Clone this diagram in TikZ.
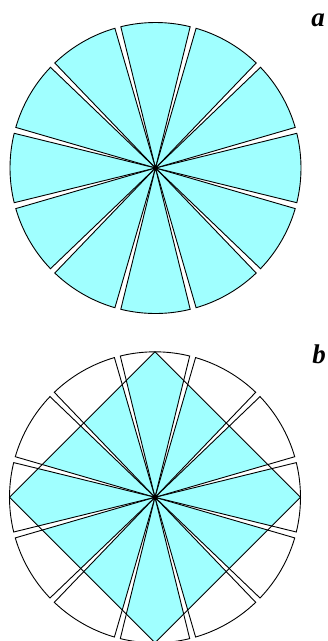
\documentclass[tikz,border=0pt]{standalone}
\usepackage{fontspec}
\setmainfont{Liberation Serif}
\usetikzlibrary{calc}
\definecolor{cy}{RGB}{160,255,255}
\begin{document}
\begin{tikzpicture}[x=1pt,y=1pt,
  sectorline/.style={draw=black, line width=0.9pt, line join=miter},
  lbl/.style={font=\bfseries\itshape\fontsize{27}{27}\selectfont, anchor=base, inner sep=0pt}]
\useasboundingbox (0,-641) rectangle (328,0);
\def\R{145.5}
\def\h{13.8}
% ---------- a ----------
\coordinate (ca) at (155.5,-168);
\foreach \k in {0,...,11} {
  \pgfmathsetmacro\a{90+30*\k-\h}
  \pgfmathsetmacro\b{90+30*\k+\h}
  \filldraw[sectorline, fill=cy] (ca) -- ++(\a:\R) arc[start angle=\a, end angle=\b, radius=\R] -- cycle;
}
\fill (ca) circle (2);
\node[lbl] (la) at (318,-26) {a};
% ---------- b ----------
\coordinate (cb) at (155,-497.3);
\coordinate (dt) at ($(cb)+(0,\R)$);
\coordinate (dl) at ($(cb)+(-\R,0)$);
\coordinate (db) at ($(cb)+(0,-\R)$);
\coordinate (dr) at ($(cb)+(\R,0)$);
\foreach \k in {0,...,11} {
  \pgfmathsetmacro\a{90+30*\k-\h}
  \pgfmathsetmacro\b{90+30*\k+\h}
  \begin{scope}
    \clip (cb) -- ++(\a:\R) arc[start angle=\a, end angle=\b, radius=\R] -- cycle;
    \fill[cy] (dt) -- (dl) -- (db) -- (dr) -- cycle;
  \end{scope}
  \draw[sectorline] (cb) -- ++(\a:\R) arc[start angle=\a, end angle=\b, radius=\R] -- cycle;
}
\draw[sectorline] (dt) -- (dl) -- (db) -- (dr) -- cycle;
\fill (cb) circle (2);
\node[lbl] (lb) at (319,-363) {b};
\end{tikzpicture}
\end{document}
